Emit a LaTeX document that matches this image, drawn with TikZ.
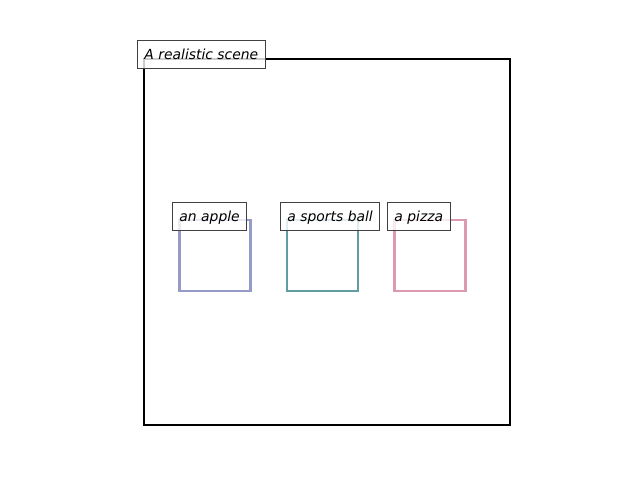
\documentclass[tikz,border=0pt]{standalone}
\usepackage{fontspec}
\setmainfont{DejaVu Sans}
\definecolor{applecol}{RGB}{150,154,198}
\definecolor{ballcol}{RGB}{96,156,161}
\definecolor{pizzacol}{RGB}{219,154,178}
\definecolor{tagcol}{RGB}{64,64,64}
\tikzset{
  objbox/.style={draw, line width=2.5pt, minimum size=71pt, inner sep=0pt},
  tag/.style={draw=tagcol, line width=0.9pt, fill=white, fill opacity=0.8, text opacity=1,
    anchor=west, minimum height=28pt, inner xsep=7pt, inner ysep=0pt,
    text height=14pt, text depth=3.3pt,
    font=\fontsize{13.9}{16}\selectfont\itshape}
}
\begin{document}
\begin{tikzpicture}[x=1pt,y=-1pt]
     \useasboundingbox (0,0) rectangle (640,480);
     \node[draw, line width=2pt, minimum size=366pt, inner sep=0pt] (scene) at (327,242) {};

     \node[objbox, draw=applecol] (apple) at (215,255.5) {};
     \node[objbox, draw=ballcol] (ball) at (322.5,255.5) {};
     \node[objbox, draw=pizzacol] (pizza) at (430,255.5) {};

     \node[tag] (scenetag) at (137,54) {A realistic scene};
     \node[tag] (appletag) at (172,216) {an apple};
     \node[tag] (balltag) at (280,216) {a sports ball};
     \node[tag] (pizzatag) at (387,216) {a pizza};
    \end{tikzpicture}
\end{document}
